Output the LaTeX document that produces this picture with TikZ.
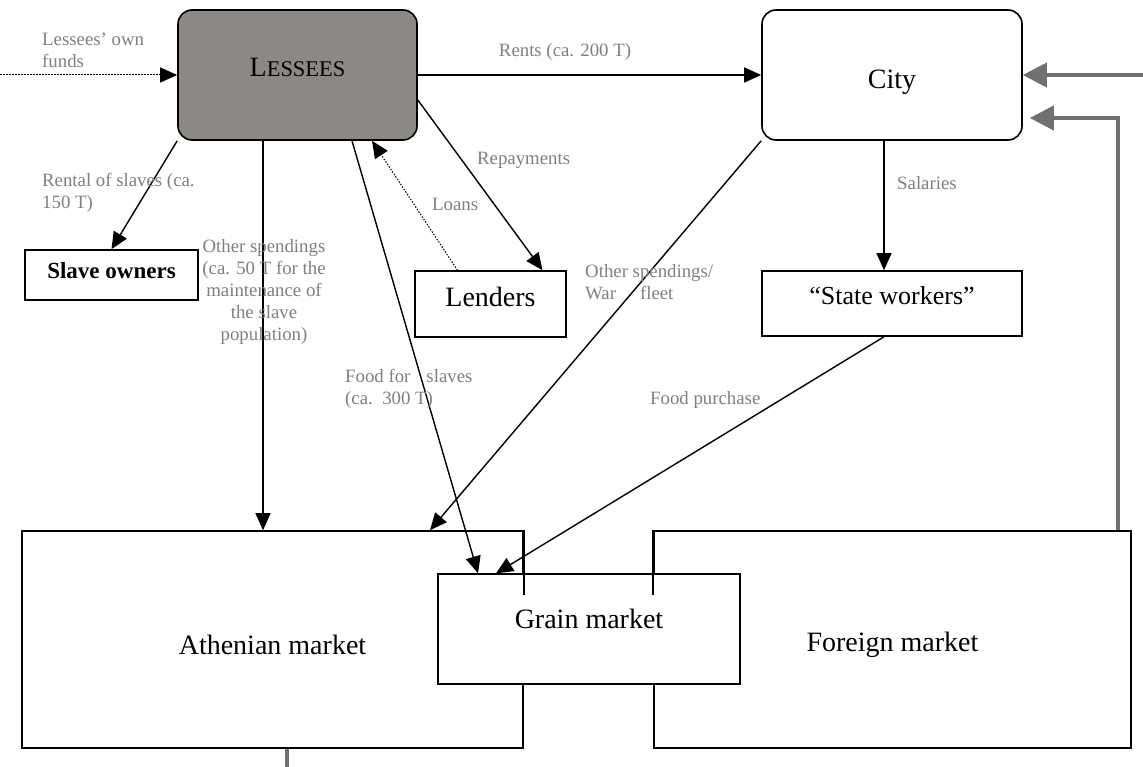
\documentclass[tikz,border=0pt]{standalone}
\usepackage{fontspec}
\setmainfont{Liberation Serif}
\usetikzlibrary{arrows.meta}

\definecolor{lesseegray}{HTML}{8C8985}
\definecolor{labelgray}{HTML}{7F7F7F}
\definecolor{flowgray}{HTML}{707070}

\begin{document}
\begin{tikzpicture}[x=1pt, y=-1pt,
    box/.style={draw, line width=1.6pt, font=\fontsize{28}{32}\selectfont, inner sep=0pt},
    roundbox/.style={box, rounded corners=14pt},
    flow/.style={-{Triangle[length=17pt,width=15pt]}, line width=1.4pt},
    loosely/.style={line width=1pt, dash pattern=on 1.5pt off 1.5pt},
    back/.style={-{Triangle[length=24pt,width=24pt]}, line width=4pt, flowgray},
    lbl/.style={labelgray, font=\fontsize{18.8}{22}\selectfont, inner sep=0pt}]
    \useasboundingbox (0,0) rectangle (1143,767);
    % Actors
    \node[roundbox, fill=lesseegray, minimum width=239pt, minimum height=130pt, text depth=16pt] (lessees) at (297.5,75) {L{\fontsize{22.4}{26}\selectfont ESSEES}};
    \node[roundbox, minimum width=260pt, minimum height=130pt, text height=34pt] (city) at (892,75) {City};
    \node[box, minimum width=173pt, minimum height=50pt, font=\fontsize{23}{26}\selectfont\bfseries, text depth=8pt] (slaveown) at (111.5,275) {Slave owners};
    \node[box, minimum width=151pt, minimum height=66pt, text depth=15pt] (lenders) at (490.5,304) {Lenders};
    \node[box, minimum width=260pt, minimum height=65pt, font=\fontsize{26}{30}\selectfont, text depth=17pt] (workers) at (892,303.5) {“State workers”};
    % Markets
    \node[box, minimum width=501pt, minimum height=217pt, text height=30pt] (athen) at (272.5,639.5) {Athenian market};
    \node[box, minimum width=477pt, minimum height=217pt, text height=30pt] (foreign) at (892.5,639.5) {Foreign market};
    \node[box, fill=white, line width=1.3pt, minimum width=302pt, minimum height=110pt, text depth=20pt] (grain) at (589,629) {Grain market};
    \draw[line width=1.6pt] (athen.north east) -- ++(0,65);
    \draw[line width=1.6pt] (foreign.north west) -- ++(0,65);
    % Flows
    \coordinate (fundsin) at (0,75);
    \draw[flow, loosely] (fundsin) -- (lessees.west);
    \draw[flow] (lessees.east) -- (city.east -| city.west);
    \draw[flow] (lessees.south west) -- (slaveown.north);
    \draw[flow, line width=1.2pt] ([xshift=-34.5pt]lessees.south) -- ([xshift=-9.5pt]athen.north);
    \draw[flow] ([xshift=54.5pt]lessees.south) -- ([xshift=-111pt]grain.north);
    \draw[flow, loosely] ([xshift=-33pt]lenders.north) -- ([xshift=74.5pt]lessees.south);
    \draw[flow] ([yshift=-25pt]lessees.east) -- ([xshift=52pt]lenders.north);
    \draw[flow] (city.south west) -- ([xshift=157.5pt]athen.north);
    \draw[flow, line width=1.2pt] ([xshift=-8pt]city.south) -- ([xshift=-8pt]workers.north);
    \draw[flow] ([xshift=-8pt]workers.south) -- ([xshift=-93pt]grain.north);
    % Returns to the city
    \coordinate (rightin) at (1143,75);
    \coordinate (bottomout) at (1143,769);
    \draw[back] (rightin) -- (city.east);
    \draw[back, shorten >=7pt] ([xshift=225.5pt]foreign.north) |- ([yshift=-43pt]city.east);
    \draw[line width=4pt, flowgray] ([xshift=14.5pt]athen.south) |- (bottomout);
    % Labels
    \node[lbl, anchor=west, align=left] (fundslbl) at (42,50) {Lessees' own\\funds};
    \node[lbl] (rentslbl) at (565,52) {Rents (ca. 200 T)};
    \node[lbl, anchor=west, align=left] (rentallbl) at (42,193) {Rental of slaves (ca.\\150 T)};
    \node[lbl, align=center] (otherlbl) at (264,292) {Other spendings\\(ca. 50 T for the\\maintenance of\\the slave\\population)};
    \node[lbl, anchor=west] (repaylbl) at (477,160) {Repayments};
    \node[lbl, anchor=west] (loanslbl) at (432,204) {Loans};
    \node[lbl, anchor=west, align=left] (warlbl) at (585,282) {Other spendings/\\War\hspace{24pt}fleet};
    \node[lbl, anchor=west, align=left] (foodlbl) at (345,389) {Food for\hspace{16pt}slaves\\(ca.\ \ 300 T)};
    \node[lbl, anchor=west] (salarylbl) at (897,183) {Salaries};
    \node[lbl, anchor=west] (purchlbl) at (650,400) {Food purchase};
\end{tikzpicture}
\end{document}
